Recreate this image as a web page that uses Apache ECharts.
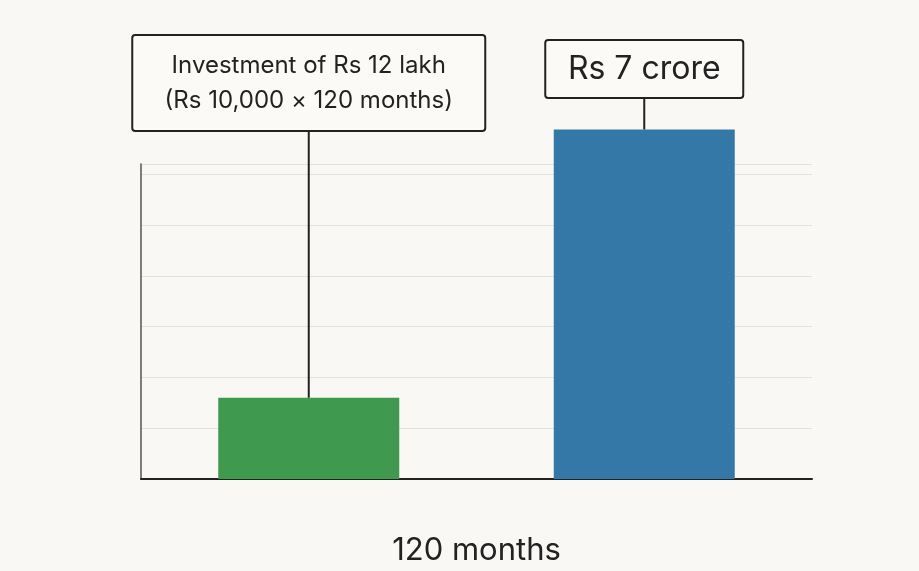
<!DOCTYPE html>
<html><head><meta charset="utf-8">
<script src="https://cdn.jsdelivr.net/npm/echarts@6/dist/echarts.min.js"></script>
<style>html,body{margin:0;background:#f9f8f4}#c{width:919px;height:571px}</style>
</head><body><div id="c"></div>
<script>
const categories = ['Investment', 'Value'];
const values = [1.6, 6.88];
const colors = ['#3f9a4f', '#3478a8'];
const callouts = ['Investment of Rs 12 lakh\n(Rs 10,000 × 120 months)', 'Rs 7 crore'];
const xName = '120 months';

const chart = echarts.init(document.getElementById('c'));
chart.setOption({
  backgroundColor: '#f9f8f4',
  animation: false,
  grid: {left: 141, right: 107, top: 164, bottom: 91},
  xAxis: {type: 'category', data: categories, axisTick: {show: false}, axisLabel: {show: false},
    axisLine: {lineStyle: {color: '#222', width: 2}},
    name: xName, nameLocation: 'middle', nameGap: 56,
    nameTextStyle: {fontSize: 31, color: '#222', fontFamily: 'Inter'}},
  yAxis: {type: 'value', min: 0, max: 6.2, interval: 1, axisLabel: {show: false},
    axisLine: {show: true, lineStyle: {color: '#555', width: 1.5}},
    splitLine: {lineStyle: {color: '#e2e2de', width: 1}}},
  series: [{type: 'bar', clip: false, barWidth: 181,
    data: values.map((v, i) => ({value: v, itemStyle: {color: colors[i]}}))}]
});
const gfx = [];
const boxes = [{w: 353, h: 96, top: 35, fs: 24}, {w: 198, h: 58, top: 40, fs: 32}];
values.forEach((v, i) => {
  const p = chart.convertToPixel({seriesIndex: 0}, [i, v]);
  const b = boxes[i];
  gfx.push({type: 'line', shape: {x1: p[0], y1: b.top + b.h, x2: p[0], y2: p[1]}, style: {stroke: '#222', lineWidth: 2}, z: 10});
  gfx.push({type: 'rect', shape: {x: p[0] - b.w / 2, y: b.top, width: b.w, height: b.h, r: 3},
    style: {fill: '#fbfaf6', stroke: '#222', lineWidth: 2}, z: 11});
  gfx.push({type: 'text', x: p[0], y: b.top + b.h / 2, z: 12,
    style: {text: callouts[i], fontSize: b.fs, fontFamily: 'Inter', fill: '#222', align: 'center', verticalAlign: 'middle', lineHeight: b.fs * 1.45}});
});
chart.setOption({graphic: gfx});
</script></body></html>
